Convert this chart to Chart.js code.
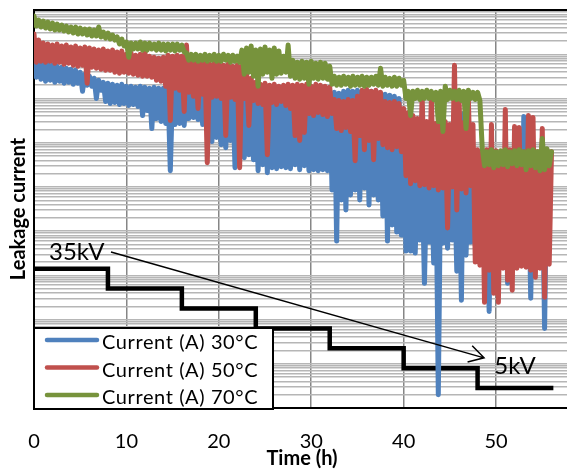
<!DOCTYPE html>
<html>
<head>
<meta charset="utf-8">
<title>Leakage current vs time</title>
<script src="https://cdn.jsdelivr.net/npm/chart.js@4.4.1/dist/chart.umd.min.js"></script>
<style>
    html, body { margin: 0; padding: 0; background: #fff; overflow: hidden; }
    #leak { display: block; }
</style>
</head>
<body>
<canvas id="leak" width="574" height="471"></canvas>
<script>
// Leakage current logged every 15 minutes, plus the applied voltage steps

const HOURS_PER_SAMPLE = 0.25;

const seriesNames = ['Current (A) 30°C', 'Current (A) 50°C', 'Current (A) 70°C'];
const seriesColors = ['#4f81bd', '#c0504d', '#77933c'];
const timeTicks = [0, 10, 20, 30, 40, 50];

// 30°C
const current30 = [
    8.12e-5, 3.02e-5, 6.94e-5, 2.72e-5, 6.26e-5, 2.45e-5, 5.94e-5, 2.58e-5,
    5.64e-5, 2.32e-5, 5.35e-5, 2.45e-5, 5.08e-5, 2.21e-5, 4.82e-5, 2.32e-5,
    4.58e-5, 2.09e-5, 4.34e-5, 2.21e-5, 3.91e-5, 1.45e-5, 3.53e-5, 1.99e-5,
    3.18e-5, 1.89e-5, 2.86e-5, 1.00e-5, 2.58e-5, 1.53e-5, 2.32e-5, 8.55e-6,
    2.21e-5, 7.71e-6, 2.09e-5, 8.12e-6, 1.99e-5, 7.32e-6, 2.09e-5, 7.71e-6,
    1.89e-5, 6.94e-6, 1.89e-5, 7.32e-6, 1.79e-5, 6.59e-6, 1.89e-5, 4.12e-6,
    1.79e-5, 5.35e-6, 1.70e-5, 2.09e-6, 1.79e-5, 3.53e-6, 1.70e-5, 3.02e-6,
    1.70e-5, 2.72e-6, 1.61e-5, 2.32e-7, 1.70e-5, 2.58e-6, 1.61e-5, 2.72e-6,
    1.70e-5, 2.45e-6, 1.61e-5, 3.53e-6, 1.53e-5, 3.72e-6, 1.61e-5, 3.35e-6,
    1.53e-5, 2.58e-6, 1.61e-5, 2.09e-6, 1.70e-5, 1.06e-6, 1.79e-5, 1.31e-6,
    1.70e-5, 9.01e-7, 1.61e-5, 7.71e-7, 1.53e-5, 1.12e-6, 1.61e-5, 2.72e-7,
    1.53e-5, 6.94e-7, 1.45e-5, 4.58e-7, 1.53e-5, 5.35e-7, 1.38e-5, 4.12e-7,
    1.45e-5, 2.32e-7, 1.38e-5, 3.18e-7, 1.45e-5, 2.09e-7, 1.38e-5, 2.72e-7,
    1.45e-5, 2.58e-7, 1.38e-5, 2.86e-7, 1.31e-5, 2.72e-7, 1.38e-5, 2.58e-7,
    1.31e-5, 3.18e-7, 1.38e-5, 2.45e-7, 1.31e-5, 3.02e-7, 1.38e-5, 2.32e-7,
    1.31e-5, 2.45e-7, 1.38e-5, 2.32e-7, 1.31e-5, 2.45e-7, 1.38e-5, 2.32e-7,
    1.31e-5, 8.55e-8, 1.38e-5, 5.94e-9, 1.31e-5, 5.08e-8, 1.45e-5, 3.02e-8,
    1.53e-5, 6.59e-8, 1.45e-5, 8.55e-8, 1.53e-5, 5.08e-8, 1.45e-5, 9.49e-8,
    1.38e-5, 3.91e-8, 1.45e-5, 6.59e-8, 1.38e-5, 5.08e-8, 1.31e-5, 2.21e-8,
    1.24e-5, 5.94e-9, 1.18e-5, 1.38e-8, 1.12e-5, 9.49e-9, 1.00e-5, 8.12e-9,
    6.94e-7, 3.53e-9, 2.45e-7, 3.53e-9, 2.21e-7, 3.18e-9, 2.09e-7, 6.26e-9,
    1.89e-7, 6.59e-10, 1.99e-7, 5.64e-9, 1.79e-7, 1.89e-9, 1.89e-7, 1.99e-12,
    1.79e-7, 5.35e-9, 1.89e-7, 4.12e-9, 1.70e-7, 6.26e-9, 1.79e-7, 1.24e-9,
    2.45e-7, 2.72e-10, 4.58e-6, 2.86e-9, 1.79e-7, 5.64e-9, 1.89e-7, 4.82e-9,
    2.45e-7, 2.86e-9, 2.72e-7, 2.45e-9, 2.45e-7, 1.53e-10, 2.72e-7, 2.72e-9,
    2.45e-7, 2.45e-9, 2.86e-7, 2.58e-9, 2.45e-7, 6.59e-10, 2.72e-7, 2.45e-9,
    2.45e-7, 2.72e-9, 2.72e-7, 2.58e-9, 3.91e-6, 2.45e-9, 2.72e-7, 3.02e-10,
    2.45e-7, 2.58e-9, 2.72e-7, 2.45e-9, 2.45e-7, 6.26e-11, 2.72e-7
];

// 50°C
const current50 = [
    2.86e-4, 6.59e-5, 2.09e-4, 6.94e-5, 1.79e-4, 6.59e-5, 1.70e-4, 6.94e-5,
    1.61e-4, 6.26e-5, 1.70e-4, 6.59e-5, 1.53e-4, 5.94e-5, 1.61e-4, 6.26e-5,
    1.45e-4, 5.64e-5, 1.53e-4, 5.35e-5, 1.38e-4, 5.64e-5, 1.45e-4, 2.21e-5,
    1.38e-4, 5.08e-5, 1.31e-4, 4.82e-5, 1.24e-4, 4.58e-5, 1.31e-4, 4.34e-5,
    1.18e-4, 4.34e-5, 1.24e-4, 3.91e-5, 1.12e-4, 3.72e-5, 1.18e-4, 3.91e-5,
    1.00e-4, 3.72e-5, 1.06e-4, 3.53e-5, 9.49e-5, 3.35e-5, 1.00e-4, 3.18e-5,
    1.12e-4, 3.18e-5, 9.01e-5, 3.02e-5, 8.55e-5, 2.58e-5, 8.12e-5, 2.45e-5,
    8.55e-5, 1.89e-5, 9.49e-5, 3.18e-6, 9.01e-5, 1.70e-5, 9.49e-5, 1.53e-5,
    9.01e-5, 5.08e-6, 1.61e-4, 1.38e-5, 7.32e-5, 1.12e-5, 6.59e-5, 5.94e-6,
    6.26e-5, 1.24e-5, 6.59e-5, 3.53e-7, 5.94e-5, 1.06e-5, 6.26e-5, 1.12e-5,
    5.94e-5, 1.00e-5, 5.64e-5, 1.45e-6, 5.94e-5, 1.06e-5, 5.35e-5, 9.49e-6,
    5.64e-5, 2.72e-7, 5.35e-5, 1.00e-5, 3.91e-5, 2.45e-6, 2.86e-5, 9.01e-6,
    2.32e-5, 7.71e-6, 2.09e-5, 7.32e-6, 2.21e-5, 5.35e-7, 1.99e-5, 8.12e-6,
    2.09e-5, 7.32e-6, 1.89e-5, 8.55e-6, 1.99e-5, 6.94e-6, 2.09e-5, 5.94e-6,
    1.99e-5, 1.45e-6, 2.09e-5, 1.12e-6, 1.99e-5, 1.70e-6, 2.09e-5, 4.58e-6,
    1.89e-5, 4.12e-6, 2.09e-5, 4.82e-6, 1.99e-5, 4.34e-6, 1.89e-5, 3.91e-6,
    1.79e-5, 4.58e-6, 9.49e-6, 2.09e-6, 9.01e-6, 1.89e-6, 8.55e-6, 2.21e-6,
    9.49e-6, 1.79e-6, 9.01e-6, 3.91e-7, 1.12e-5, 1.45e-6, 1.53e-5, 6.94e-7,
    1.61e-5, 1.12e-6, 1.45e-5, 4.12e-7, 1.53e-5, 1.24e-6, 1.38e-5, 9.01e-7,
    8.55e-6, 7.71e-7, 8.12e-6, 6.94e-7, 8.55e-6, 8.12e-7, 7.71e-6, 6.26e-7,
    5.94e-6, 1.79e-7, 4.82e-6, 1.18e-7, 4.12e-6, 1.38e-7, 3.53e-6, 1.06e-7,
    1.12e-5, 1.12e-7, 3.02e-6, 9.49e-8, 1.00e-5, 1.06e-7, 2.72e-6, 8.55e-8,
    3.18e-6, 9.49e-8, 3.02e-6, 1.18e-8, 2.58e-6, 1.00e-7, 5.64e-5, 3.02e-8,
    9.01e-6, 9.01e-8, 2.86e-6, 7.32e-8, 1.00e-5, 1.06e-7, 2.58e-6, 1.99e-9,
    6.94e-7, 1.70e-9, 6.26e-7, 2.45e-10, 6.94e-7, 1.31e-9, 2.58e-6, 3.91e-10,
    6.59e-7, 2.45e-10, 5.94e-7, 1.45e-9, 5.64e-6, 7.71e-10, 6.94e-7, 4.58e-10,
    2.32e-6, 1.45e-9, 2.21e-6, 1.61e-9, 6.26e-7, 1.53e-9, 4.12e-6, 1.31e-9,
    3.72e-6, 9.01e-10, 6.26e-7, 1.45e-9, 2.09e-6, 3.18e-10, 6.94e-7, 1.79e-9,
    6.26e-7
];

// 70°C
const current70 = [
    7.32e-4, 4.34e-4, 5.94e-4, 4.12e-4, 5.64e-4, 3.91e-4, 5.35e-4, 3.72e-4,
    5.08e-4, 3.53e-4, 4.82e-4, 3.53e-4, 4.58e-4, 3.35e-4, 4.34e-4, 3.18e-4,
    4.12e-4, 3.02e-4, 4.12e-4, 2.86e-4, 3.91e-4, 2.86e-4, 3.72e-4, 2.72e-4,
    3.72e-4, 2.58e-4, 3.53e-4, 2.58e-4, 4.12e-4, 2.45e-4, 3.18e-4, 2.32e-4,
    3.02e-4, 2.21e-4, 2.72e-4, 2.09e-4, 2.45e-4, 1.70e-4, 2.21e-4, 1.53e-4,
    1.89e-4, 8.55e-5, 1.79e-4, 1.31e-4, 1.79e-4, 1.31e-4, 1.89e-4, 1.24e-4,
    1.79e-4, 1.24e-4, 1.79e-4, 1.31e-4, 1.70e-4, 1.24e-4, 1.79e-4, 1.24e-4,
    1.70e-4, 1.18e-4, 1.70e-4, 1.24e-4, 1.70e-4, 1.18e-4, 1.70e-4, 1.24e-4,
    1.61e-4, 1.12e-4, 1.06e-4, 7.32e-5, 1.00e-4, 7.32e-5, 1.00e-4, 6.94e-5,
    9.49e-5, 7.32e-5, 1.00e-4, 6.94e-5, 9.49e-5, 7.32e-5, 1.00e-4, 6.94e-5,
    9.49e-5, 6.94e-5, 1.00e-4, 7.32e-5, 9.49e-5, 6.59e-5, 9.49e-5, 6.94e-5,
    9.01e-5, 6.59e-5, 1.24e-4, 3.53e-5, 1.38e-4, 3.91e-5, 1.53e-4, 3.18e-5,
    1.24e-4, 1.89e-5, 1.31e-4, 3.53e-5, 1.45e-4, 3.91e-5, 1.24e-4, 2.86e-5,
    1.38e-4, 3.53e-5, 1.18e-4, 3.72e-5, 9.01e-5, 3.91e-5, 1.61e-4, 3.18e-5,
    7.32e-5, 2.86e-5, 6.59e-5, 2.72e-5, 6.94e-5, 2.86e-5, 6.59e-5, 2.09e-5,
    6.94e-5, 2.86e-5, 6.26e-5, 2.72e-5, 6.59e-5, 2.86e-5, 6.26e-5, 2.72e-5,
    5.35e-5, 2.09e-5, 3.18e-5, 1.99e-5, 3.02e-5, 1.99e-5, 3.18e-5, 2.09e-5,
    3.02e-5, 1.89e-5, 3.18e-5, 1.99e-5, 3.02e-5, 1.99e-5, 3.18e-5, 1.89e-5,
    3.02e-5, 1.99e-5, 3.02e-5, 2.09e-5, 3.18e-5, 1.99e-5, 4.82e-5, 1.89e-5,
    3.02e-5, 1.99e-5, 2.86e-5, 1.89e-5, 3.02e-5, 1.89e-5, 2.86e-5, 1.99e-5,
    2.58e-5, 1.00e-5, 1.45e-5, 4.12e-6, 1.45e-5, 1.00e-5, 1.53e-5, 9.49e-6,
    1.45e-5, 1.00e-5, 1.53e-5, 1.00e-5, 1.45e-5, 9.49e-6, 1.38e-5, 3.02e-6,
    1.45e-5, 1.79e-6, 1.89e-5, 9.49e-6, 1.53e-5, 1.00e-5, 1.45e-5, 9.49e-6,
    1.53e-5, 9.01e-6, 1.45e-5, 2.09e-6, 1.53e-5, 1.00e-5, 1.38e-5, 9.49e-6,
    1.38e-5, 9.01e-6, 7.71e-7, 3.02e-7, 6.26e-7, 3.18e-7, 6.94e-7, 2.72e-7,
    6.26e-7, 3.02e-7, 6.59e-7, 3.18e-7, 6.94e-7, 2.86e-7, 6.26e-7, 3.35e-7,
    6.59e-7, 3.02e-7, 6.94e-7, 3.18e-7, 6.26e-7, 2.45e-7, 6.59e-7, 3.02e-7,
    6.94e-7, 2.72e-7, 6.26e-7, 2.32e-7, 1.24e-6, 2.45e-7, 7.32e-7, 3.02e-7,
    6.26e-7
];

// applied voltage (kV), each level held until the next change
const stepHours = [0, 8, 16, 24, 32, 40, 48, 56.2];
const stepKV = [35, 30, 25, 20, 15, 10, 5, 5];

function toPoints(values) {
    return values.map((v, i) => ({ x: i * HOURS_PER_SAMPLE, y: v }));
}

// grid lines at 1..9 x 10^n for every decade of the current axis
function decadeTicks(minExp, maxExp) {
    const ticks = [];
    for (let e = minExp; e < maxExp; e++) {
        for (let m = 1; m <= 9; m++) {
            ticks.push({ value: m * Math.pow(10, e) });
        }
    }
    ticks.push({ value: Math.pow(10, maxExp) });
    return ticks;
}

Chart.defaults.font.family = 'Lato';
Chart.defaults.color = '#000';

// top frame line, voltage notes and the boxed legend
const overlay = {
    id: 'overlay',
    afterDatasetsDraw(chart) {
        const ctx = chart.ctx;
        const area = chart.chartArea;
        const xs = chart.scales.x;
        const kv = chart.scales.kv;

        ctx.save();
        ctx.strokeStyle = '#000';
        ctx.lineWidth = 2;
        ctx.beginPath();
        ctx.moveTo(area.left - 1, area.top);
        ctx.lineTo(chart.width, area.top);
        ctx.stroke();

        // arrow from the 35kV note down to the 5kV note
        const x0 = xs.getPixelForValue(8.33), y0 = kv.getPixelForValue(39.2);
        const x1 = xs.getPixelForValue(48.7), y1 = kv.getPixelForValue(12.6);
        const ang = Math.atan2(y1 - y0, x1 - x0);
        const head = 17, spread = Math.PI / 6;
        ctx.lineWidth = 1.5;
        ctx.beginPath();
        ctx.moveTo(x0, y0);
        ctx.lineTo(x1, y1);
        ctx.moveTo(x1 - head * Math.cos(ang - spread), y1 - head * Math.sin(ang - spread));
        ctx.lineTo(x1, y1);
        ctx.lineTo(x1 - head * Math.cos(ang + spread), y1 - head * Math.sin(ang + spread));
        ctx.stroke();

        ctx.fillStyle = '#000';
        ctx.font = '24px Lato';
        ctx.textBaseline = 'alphabetic';
        ctx.textAlign = 'left';
        ctx.fillText('35kV', xs.getPixelForValue(1.62), kv.getPixelForValue(37.2));
        ctx.fillText('5kV', xs.getPixelForValue(49.8), kv.getPixelForValue(8.54));

        // legend
        const bx = area.left, by = area.bottom - 80, bw = 239, bh = 81;
        ctx.fillStyle = '#fff';
        ctx.fillRect(bx, by, bw, bh);
        ctx.lineWidth = 2;
        ctx.strokeRect(bx, by, bw, bh);
        ctx.font = '20px Lato';
        ctx.letterSpacing = '0.6px';
        ctx.textBaseline = 'middle';
        ctx.lineCap = 'round';
        seriesNames.forEach((name, i) => {
            const ry = by + 12 + i * 27.5;
            ctx.strokeStyle = seriesColors[i];
            ctx.lineWidth = 4.5;
            ctx.beginPath();
            ctx.moveTo(bx + 13, ry);
            ctx.lineTo(bx + 63, ry);
            ctx.stroke();
            ctx.fillStyle = '#000';
            ctx.fillText(name, bx + 68, ry + 3);
        });
        ctx.restore();
    }
};

new Chart(document.getElementById('leak'), {
    type: 'line',
    data: {
        datasets: [
            { label: seriesNames[0], data: toPoints(current30), borderColor: seriesColors[0], order: 2 },
            { label: seriesNames[1], data: toPoints(current50), borderColor: seriesColors[1], order: 1 },
            { label: seriesNames[2], data: toPoints(current70), borderColor: seriesColors[2], order: 0 },
            {
                label: 'Voltage (kV)',
                data: stepHours.map((h, i) => ({ x: h, y: stepKV[i] })),
                borderColor: '#000',
                borderWidth: 4.5,
                stepped: true,
                yAxisID: 'kv',
                borderJoinStyle: 'miter',
                borderCapStyle: 'butt',
                order: 3
            }
        ]
    },
    options: {
        responsive: false,
        animation: false,
        devicePixelRatio: 1,
        layout: { padding: { top: 10, right: 4, left: 0, bottom: 0 } },
        elements: {
            line: { borderWidth: 5, tension: 0, fill: false, borderJoinStyle: 'round', borderCapStyle: 'round' },
            point: { radius: 0, hoverRadius: 0 }
        },
        plugins: {
            legend: { display: false },
            tooltip: { enabled: false }
        },
        scales: {
            x: {
                type: 'linear',
                min: 0,
                max: 58,
                afterBuildTicks: s => { s.ticks = timeTicks.map(v => ({ value: v })); },
                afterFit: s => { s.height = 63; },
                ticks: { font: { size: 20 }, padding: 22, maxRotation: 0, color: '#000' },
                grid: {
                    color: c => (c.tick && c.tick.value === 0 ? 'rgba(0,0,0,0)' : '#868686'),
                    lineWidth: 1.5,
                    drawTicks: false
                },
                border: { color: '#000', width: 2 },
                title: {
                    display: true,
                    text: 'Time (h)',
                    color: '#000',
                    font: { size: 20, weight: 'bold' },
                    padding: { top: 0, bottom: 0 }
                }
            },
            y: {
                type: 'logarithmic',
                position: 'left',
                min: 1e-12,
                max: 1e-3,
                afterBuildTicks: s => { s.ticks = decadeTicks(-12, -3); },
                afterFit: s => { s.width = 34; },
                ticks: { display: false },
                grid: { color: '#b6b6b6', lineWidth: 1.4, drawTicks: false },
                border: { color: '#000', width: 2 },
                title: {
                    display: true,
                    text: 'Leakage current',
                    color: '#000',
                    font: { size: 20, weight: 'bold' },
                    padding: { top: 7, bottom: 3 }
                }
            },
            kv: {
                type: 'linear',
                position: 'right',
                display: false,
                min: 0,
                max: 100
            }
        }
    },
    plugins: [overlay]
});
</script>
</body>
</html>
